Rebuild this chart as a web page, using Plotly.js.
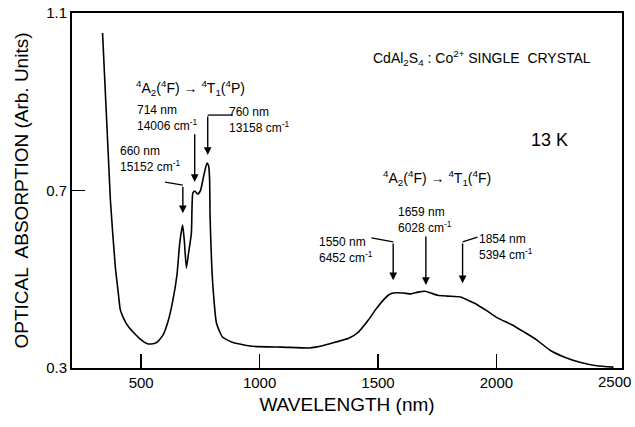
<!DOCTYPE html>
<html>
<head>
<meta charset="utf-8">
<script src="https://cdn.plot.ly/plotly-3.0.1.min.js"></script>
<style>html,body{margin:0;padding:0;background:#fff;}#plot{width:635px;height:427px;}</style>
</head>
<body>
<div id="plot"></div>
<script>
// Wavelength (nm) and optical absorption (arb. units)
const wavelength = [337, 370, 391, 403, 412, 425, 441, 466, 496, 521, 542, 567, 592, 613, 634, 651, 663, 675, 682, 691, 699, 712, 718, 726, 739, 751, 764, 778, 785, 789, 791, 797, 804, 818, 843, 885, 969, 1095, 1208, 1237, 1304, 1376, 1417, 1459, 1489, 1522, 1543, 1564, 1606, 1639, 1669, 1698, 1723, 1752, 1794, 1849, 1878, 1908, 1962, 2004, 2067, 2117, 2171, 2226, 2285, 2352, 2423, 2494];
const absorption = [1.055, 0.679, 0.527, 0.471, 0.431, 0.413, 0.397, 0.381, 0.365, 0.356, 0.354, 0.358, 0.374, 0.404, 0.453, 0.509, 0.582, 0.622, 0.588, 0.525, 0.555, 0.604, 0.694, 0.699, 0.692, 0.701, 0.733, 0.762, 0.755, 0.724, 0.640, 0.543, 0.476, 0.401, 0.370, 0.358, 0.349, 0.347, 0.345, 0.347, 0.356, 0.367, 0.381, 0.408, 0.431, 0.453, 0.464, 0.469, 0.469, 0.467, 0.471, 0.473, 0.469, 0.464, 0.462, 0.460, 0.453, 0.446, 0.428, 0.413, 0.397, 0.381, 0.363, 0.340, 0.325, 0.313, 0.305, 0.302];

const xTickMarks = [500, 1000, 1500, 2000];   // ticks drawn inside the frame
const xEdgeLabel = 2500;                      // labelled, no tick mark
const yTickVals = [0.3, 0.7, 1.1];
const yTickText = ['0.3', '0.7', '1.1'];

// Labelled band positions
const bandNm = [660, 714, 760, 1550, 1659, 1854];
const bandCm = [15152, 14006, 13158, 6452, 6028, 5394];

const FONT = 'Liberation Sans, Arial, Helvetica, sans-serif';

const trace = {
  x: wavelength, y: absorption, type: 'scatter', mode: 'lines',
  line: {color: '#000', width: 1.6, shape: 'spline', smoothing: 0.5},
  hoverinfo: 'skip', showlegend: false
};

function bandText(i) {
  return bandNm[i] + ' nm<br>' + bandCm[i] + ' cm<sup>-1</sup>';
}

const annFont = {family: FONT, size: 12, color: '#000'};
function txt(x, y, text, opts) {
  return Object.assign({x: x, y: y, xref: 'x', yref: 'y', text: text, showarrow: false,
    font: annFont, xanchor: 'center', yanchor: 'middle', align: 'left'}, opts || {});
}
function arrow(x, yFrom, yTo) {
  return {x: x, y: yTo, ax: x, ay: yFrom, xref: 'x', yref: 'y', axref: 'x', ayref: 'y',
    text: '', showarrow: true, arrowhead: 2, arrowsize: 1.1, arrowwidth: 1.4, arrowcolor: '#000', standoff: 0, startstandoff: 0};
}
function seg(x0, y0, x1, y1) {
  return {type: 'line', xref: 'x', yref: 'y', x0: x0, y0: y0, x1: x1, y1: y1, line: {color: '#000', width: 1.3}};
}

const annotations = [
  txt(1940, 0.999, 'CdAl<sub>2</sub>S<sub>4</sub> : Co<sup>2+</sup> SINGLE  CRYSTAL', {align: 'center', font: {family: FONT, size: 14, color: '#000'}}),
  txt(2222, 0.814, '13 K', {font: {family: FONT, size: 18, color: '#000'}}),
  txt(709, 0.931, '<sup>4</sup>A<sub>2</sub>(<sup>4</sup>F) → <sup>4</sup>T<sub>1</sub>(<sup>4</sup>P)', {font: {family: FONT, size: 14, color: '#000'}}),
  txt(1748, 0.728, '<sup>4</sup>A<sub>2</sub>(<sup>4</sup>F) → <sup>4</sup>T<sub>1</sub>(<sup>4</sup>F)', {font: {family: FONT, size: 14, color: '#000'}}),
  txt(538, 0.771, bandText(0)),
  txt(609, 0.863, bandText(1)),
  txt(998, 0.859, bandText(2)),
  txt(1363, 0.566, bandText(3)),
  txt(1698, 0.633, bandText(4)),
  txt(2042, 0.573, bandText(5)),
  arrow(676, 0.712, 0.649),
  arrow(726, 0.830, 0.719),
  arrow(781, 0.870, 0.780),
  arrow(1564, 0.584, 0.498),
  arrow(1702, 0.600, 0.487),
  arrow(1857, 0.584, 0.491),
  {x: xEdgeLabel, y: 0, xref: 'x', yref: 'paper', text: String(xEdgeLabel), showarrow: false,
   xanchor: 'center', yanchor: 'top', yshift: -3, font: {family: FONT, size: 15, color: '#000'}}
];

const shapes = [
  seg(601, 0.719, 676, 0.712),
  seg(886, 0.870, 781, 0.870),
  seg(1472, 0.593, 1564, 0.584),
  seg(1920, 0.595, 1857, 0.584)
];

const layout = {
  width: 635, height: 427,
  margin: {l: 72, r: 13, t: 13, b: 59},
  paper_bgcolor: '#fff', plot_bgcolor: '#fff',
  font: {family: FONT, color: '#000'},
  showlegend: false,
  xaxis: {
    range: [208, 2530], tickvals: xTickMarks, ticktext: xTickMarks.map(String),
    ticks: 'inside', ticklen: 14, tickwidth: 1.5, tickcolor: '#000',
    showgrid: false, zeroline: false,
    showline: true, linecolor: '#000', linewidth: 2, mirror: true,
    tickfont: {family: FONT, size: 15, color: '#000'},
    title: {text: 'WAVELENGTH (nm)', font: {family: FONT, size: 19, color: '#000'}, standoff: 8}
  },
  yaxis: {
    range: [0.3, 1.1], tickvals: yTickVals, ticktext: yTickText,
    ticks: 'inside', ticklen: 13, tickwidth: 1.5, tickcolor: '#000',
    showgrid: false, zeroline: false,
    showline: true, linecolor: '#000', linewidth: 2, mirror: true,
    tickfont: {family: FONT, size: 15, color: '#000'},
    title: {text: 'OPTICAL  ABSORPTION (Arb. Units)', font: {family: FONT, size: 19, color: '#000'}, standoff: 12}
  },
  annotations: annotations,
  shapes: shapes
};

Plotly.newPlot('plot', [trace], layout, {staticPlot: true, displayModeBar: false});
</script>
</body>
</html>
